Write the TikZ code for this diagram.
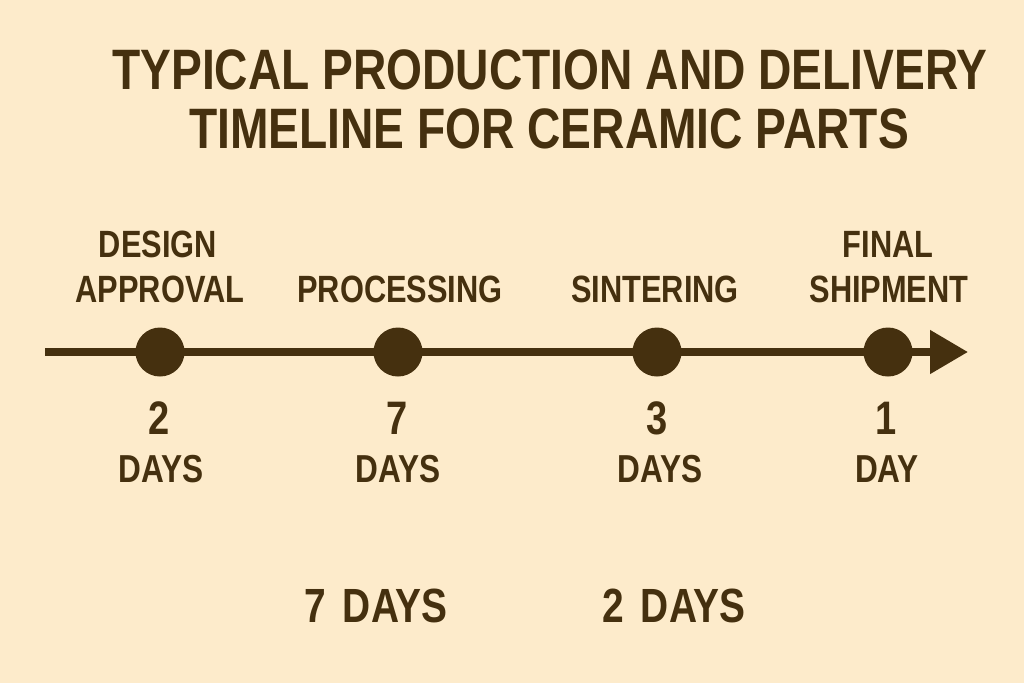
\documentclass[tikz,border=0pt]{standalone}
\usepackage{fontspec}
\setmainfont{Liberation Sans}[FakeStretch=0.81]
\usetikzlibrary{arrows.meta}
\definecolor{bg}{HTML}{FDEBCB}
\definecolor{ink}{HTML}{45300F}
\tikzset{
  title/.style={font=\fontsize{57}{60}\selectfont\bfseries, text=ink, anchor=base, inner sep=0pt},
  stage/.style={font=\fontsize{38}{42}\selectfont\bfseries, text=ink, anchor=base, inner sep=0pt},
  num/.style={font=\fontsize{47}{50}\selectfont\bfseries, text=ink, anchor=base, inner sep=0pt},
  unit/.style={font=\fontsize{39}{42}\selectfont\bfseries, text=ink, anchor=base, inner sep=0pt},
  total/.style={font=\fontsize{48}{50}\selectfont\bfseries, text=ink, anchor=base, inner sep=0pt},
  dot/.style={circle, fill=ink, minimum size=49pt, inner sep=0pt},
  axis/.style={draw=ink, line width=8pt, -{Triangle[length=38pt,width=42pt]}}
}
\begin{document}
\begin{tikzpicture}[x=1pt,y=-1pt]
\fill[bg] (0,0) rectangle (1024,683);
\useasboundingbox (0,0) rectangle (1024,683);
% title
\node[title] (t1) at (550,89) {TYPICAL PRODUCTION AND DELIVERY};
\node[title] (t2) at (549,148) {TIMELINE FOR CERAMIC PARTS};
% axis
\coordinate (start) at (45,352);
\coordinate (end) at (968,352);
\draw[axis] (start) -- (end);
\node[dot] (d1) at (160,352) {};
\node[dot] (d2) at (398,352) {};
\node[dot] (d3) at (657,352) {};
\node[dot] (d4) at (888,352) {};
% stage labels
\node[stage] (l1a) at (158,257) {DESIGN};
\node[stage] (l1b) at (160,302) {APPROVAL};
\node[stage] (l2) at (400,302) {PROCESSING};
\node[stage] (l3) at (655,302) {SINTERING};
\node[stage] (l4a) at (888,257) {FINAL};
\node[stage] (l4b) at (889,302) {SHIPMENT};
% durations
\node[num] (n1) at (159,434) {2};
\node[num] (n2) at (397,434) {7};
\node[num] (n3) at (657,434) {3};
\node[num] (n4) at (886,434) {1};
\node[unit] (u1) at (161,482) {DAYS};
\node[unit] (u2) at (398,482) {DAYS};
\node[unit] (u3) at (660,482) {DAYS};
\node[unit] (u4) at (887,482) {DAY};
% totals
\node[total] (s1) at (376,622) {7 \hspace{6pt}DAYS};
\node[total] (s2) at (674,622) {2 \hspace{6pt}DAYS};
\end{tikzpicture}
\end{document}
